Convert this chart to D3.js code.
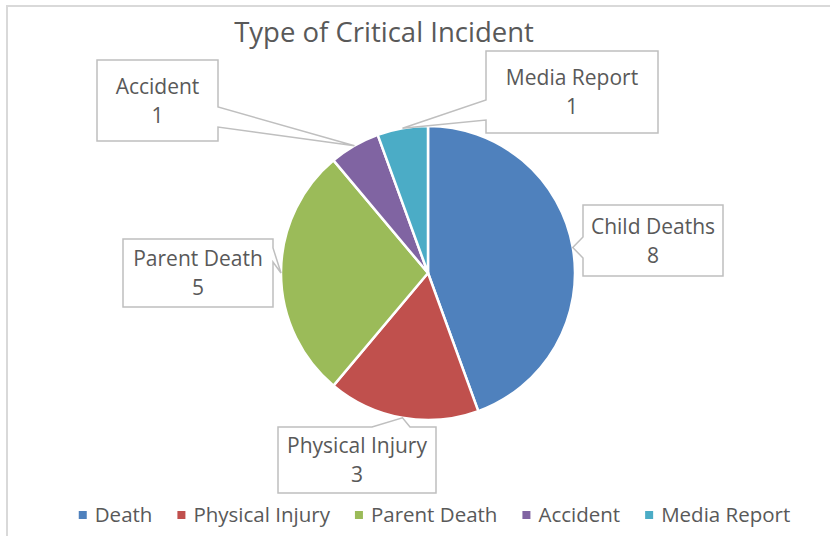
<!DOCTYPE html>
<html>
<head>
<meta charset="utf-8">
<script src="https://cdn.jsdelivr.net/npm/d3@7"></script>
<style>
  body { margin: 0; background: #fff; }
  text { font-family: "Open Sans", sans-serif; fill: #595959; }
</style>
</head>
<body>
<div id="pie"></div>
<script>
var categories = ["Death", "Physical Injury", "Parent Death", "Accident", "Media Report"];
var labels = ["Child Deaths", "Physical Injury", "Parent Death", "Accident", "Media Report"];
var values = [8, 3, 5, 1, 1];
var colors = ["#4F81BD", "#C0504D", "#9BBB59", "#8064A2", "#4BACC6"];

// callout boxes (layout only): box + which side the pointer leaves from
var boxes = [
    { x: 583, y: 205, w: 140, h: 71, side: "left", b0: 32, b1: 53 },
    { x: 278, y: 427, w: 158, h: 66, side: "top", b0: 94, b1: 132 },
    { x: 123, y: 239, w: 150, h: 68, side: "right", b0: 9, b1: 23 },
    { x: 97, y: 60, w: 121, h: 81, side: "right", b0: 47, b1: 67 },
    { x: 486, y: 51, w: 172, h: 82, side: "left", b0: 49, b1: 69 }
];

var width = 830,
    height = 536,
    cx = 428,
    cy = 273,
    radius = 147;

var data = categories.map(function (c, i) {
    return { cat: c, label: labels[i], value: values[i], box: boxes[i] };
});

var color = d3.scaleOrdinal()
    .domain(categories)
    .range(colors);

var pie = d3.pie()
    .sort(null)
    .value(function (d) { return d.value; })(data);

var arc = d3.arc()
    .outerRadius(radius)
    .innerRadius(0);

var svg = d3.select("#pie")
    .append("svg")
    .attr("width", width)
    .attr("height", height);

// chart border
svg.append("rect")
    .attr("x", 7)
    .attr("y", 6)
    .attr("width", 900)
    .attr("height", 600)
    .attr("fill", "none")
    .attr("stroke", "#D9D9D9")
    .attr("stroke-width", 2);

svg.append("text")
    .attr("x", 384)
    .attr("y", 42)
    .attr("text-anchor", "middle")
    .style("font-size", "27.5px")
    .text("Type of Critical Incident");

var g = svg.append("g")
    .attr("transform", "translate(" + cx + "," + cy + ")");

g.selectAll("path")
    .data(pie)
    .enter().append("path")
    .attr("d", arc)
    .style("fill", function (d) { return color(d.data.cat); })
    .attr("stroke", "white")
    .style("stroke-width", "2.5px");

// callouts
function calloutPath(b, tip) {
    var x0 = b.x, y0 = b.y, x1 = b.x + b.w, y1 = b.y + b.h;
    var t = tip[0] + "," + tip[1];
    if (b.side === "left") {
        return "M" + x0 + "," + y0 + "L" + x1 + "," + y0 + "L" + x1 + "," + y1 + "L" + x0 + "," + y1 +
            "L" + x0 + "," + (y0 + b.b1) + "L" + t + "L" + x0 + "," + (y0 + b.b0) + "Z";
    }
    if (b.side === "right") {
        return "M" + x0 + "," + y0 + "L" + x1 + "," + y0 + "L" + x1 + "," + (y0 + b.b0) + "L" + t +
            "L" + x1 + "," + (y0 + b.b1) + "L" + x1 + "," + y1 + "L" + x0 + "," + y1 + "Z";
    }
    // top
    return "M" + x0 + "," + y0 + "L" + (x0 + b.b0) + "," + y0 + "L" + t + "L" + (x0 + b.b1) + "," + y0 +
        "L" + x1 + "," + y0 + "L" + x1 + "," + y1 + "L" + x0 + "," + y1 + "Z";
}

var callouts = svg.selectAll(".callout")
    .data(pie)
    .enter().append("g")
    .attr("class", "callout");

callouts.append("path")
    .attr("d", function (d) {
        var a = (d.startAngle + d.endAngle) / 2;
        var tip = [cx + radius * Math.sin(a), cy - radius * Math.cos(a)];
        return calloutPath(d.data.box, tip);
    })
    .attr("fill", "white")
    .attr("stroke", "#BFBFBF")
    .attr("stroke-width", 1.5);

callouts.append("text")
    .attr("x", function (d) { return d.data.box.x + d.data.box.w / 2; })
    .attr("y", function (d) { return d.data.box.y + d.data.box.h / 2 - 7; })
    .attr("text-anchor", "middle")
    .style("font-size", "21px")
    .text(function (d) { return d.data.label; });

callouts.append("text")
    .attr("x", function (d) { return d.data.box.x + d.data.box.w / 2; })
    .attr("y", function (d) { return d.data.box.y + d.data.box.h / 2 + 22; })
    .attr("text-anchor", "middle")
    .style("font-size", "21px")
    .text(function (d) { return d.data.value; });

// legend
var legend = svg.append("g");
var items = legend.selectAll("g")
    .data(categories)
    .enter().append("g");

items.append("rect")
    .attr("y", 511)
    .attr("width", 8)
    .attr("height", 8)
    .style("fill", function (d) { return color(d); });

items.append("text")
    .attr("x", 16)
    .attr("y", 522)
    .style("font-size", "20.5px")
    .text(function (d) { return d; });

var pos = 0, offsets = [];
items.each(function () {
    offsets.push(pos);
    pos += d3.select(this).select("text").node().getComputedTextLength() + 16 + 25;
});
var total = pos - 25;
var start = 434.5 - total / 2;
items.attr("transform", function (d, i) { return "translate(" + (start + offsets[i]) + ",0)"; });
</script>
</body>
</html>
